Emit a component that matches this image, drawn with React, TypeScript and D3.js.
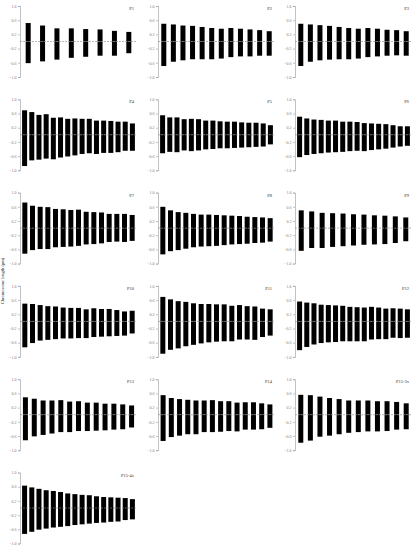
import React, { useEffect, useRef } from 'react';
import * as d3 from 'd3';

// short arm (above centromere) and long arm (below, negative) per accession
const P1_UP = [0.52, 0.45, 0.37, 0.37, 0.35, 0.34, 0.30, 0.27];
const P1_DOWN = [-0.61, -0.56, -0.51, -0.46, -0.43, -0.40, -0.40, -0.33];
const P2_UP = [0.50, 0.48, 0.45, 0.44, 0.41, 0.38, 0.36, 0.38, 0.36, 0.34, 0.32, 0.29];
const P2_DOWN = [-0.69, -0.57, -0.53, -0.50, -0.50, -0.50, -0.48, -0.44, -0.42, -0.42, -0.40, -0.40];
const P3_UP = [0.50, 0.48, 0.46, 0.44, 0.41, 0.38, 0.36, 0.38, 0.36, 0.33, 0.32, 0.29];
const P3_DOWN = [-0.69, -0.57, -0.53, -0.51, -0.50, -0.50, -0.48, -0.44, -0.42, -0.40, -0.39, -0.40];
const P4_UP = [0.69, 0.64, 0.56, 0.58, 0.48, 0.49, 0.45, 0.46, 0.45, 0.45, 0.40, 0.40, 0.39, 0.37, 0.37, 0.32];
const P4_DOWN = [-0.88, -0.72, -0.70, -0.67, -0.69, -0.64, -0.61, -0.58, -0.54, -0.52, -0.54, -0.51, -0.51, -0.49, -0.45, -0.45];
const P5_UP = [0.55, 0.49, 0.49, 0.44, 0.45, 0.44, 0.40, 0.40, 0.38, 0.37, 0.37, 0.35, 0.34, 0.34, 0.32, 0.27];
const P5_DOWN = [-0.52, -0.48, -0.49, -0.44, -0.46, -0.44, -0.41, -0.40, -0.38, -0.38, -0.37, -0.36, -0.35, -0.34, -0.33, -0.27];
const P6_UP = [0.51, 0.46, 0.43, 0.42, 0.40, 0.40, 0.37, 0.37, 0.36, 0.33, 0.32, 0.31, 0.30, 0.27, 0.24, 0.24];
const P6_DOWN = [-0.63, -0.57, -0.54, -0.52, -0.50, -0.49, -0.48, -0.46, -0.45, -0.46, -0.43, -0.41, -0.39, -0.36, -0.33, -0.31];
const P7_UP = [0.72, 0.63, 0.60, 0.59, 0.54, 0.53, 0.51, 0.52, 0.46, 0.45, 0.44, 0.40, 0.40, 0.40, 0.37];
const P7_DOWN = [-0.72, -0.62, -0.59, -0.59, -0.54, -0.53, -0.52, -0.50, -0.46, -0.45, -0.43, -0.39, -0.38, -0.39, -0.36];
const P8_UP = [0.60, 0.50, 0.45, 0.43, 0.40, 0.38, 0.38, 0.37, 0.36, 0.35, 0.34, 0.32, 0.31, 0.30, 0.28];
const P8_DOWN = [-0.74, -0.65, -0.62, -0.58, -0.54, -0.52, -0.51, -0.50, -0.48, -0.46, -0.45, -0.44, -0.42, -0.41, -0.38];
const P9_UP = [0.50, 0.47, 0.43, 0.42, 0.41, 0.39, 0.38, 0.36, 0.35, 0.33, 0.30];
const P9_DOWN = [-0.64, -0.56, -0.56, -0.53, -0.51, -0.49, -0.47, -0.46, -0.45, -0.42, -0.37];
const P10_UP = [0.50, 0.49, 0.46, 0.43, 0.42, 0.39, 0.38, 0.38, 0.34, 0.37, 0.35, 0.35, 0.32, 0.28, 0.30];
const P10_DOWN = [-0.73, -0.61, -0.54, -0.52, -0.50, -0.48, -0.48, -0.47, -0.47, -0.44, -0.43, -0.42, -0.41, -0.40, -0.34];
const P11_UP = [0.69, 0.62, 0.57, 0.55, 0.51, 0.49, 0.49, 0.48, 0.48, 0.44, 0.46, 0.43, 0.42, 0.36, 0.34];
const P11_DOWN = [-0.91, -0.80, -0.76, -0.70, -0.66, -0.62, -0.59, -0.57, -0.56, -0.56, -0.51, -0.51, -0.52, -0.44, -0.40];
const P12_UP = [0.56, 0.53, 0.51, 0.47, 0.46, 0.45, 0.44, 0.41, 0.40, 0.39, 0.41, 0.39, 0.36, 0.37, 0.36, 0.34];
const P12_DOWN = [-0.81, -0.72, -0.65, -0.61, -0.59, -0.58, -0.56, -0.56, -0.56, -0.56, -0.51, -0.50, -0.50, -0.46, -0.47, -0.46];
const P13_UP = [0.49, 0.45, 0.40, 0.40, 0.41, 0.37, 0.38, 0.34, 0.34, 0.31, 0.31, 0.29, 0.26];
const P13_DOWN = [-0.72, -0.61, -0.57, -0.53, -0.49, -0.49, -0.46, -0.46, -0.45, -0.44, -0.42, -0.41, -0.36];
const P14_UP = [0.55, 0.47, 0.44, 0.42, 0.40, 0.40, 0.41, 0.38, 0.38, 0.34, 0.35, 0.35, 0.32, 0.29];
const P14_DOWN = [-0.74, -0.63, -0.59, -0.55, -0.55, -0.49, -0.49, -0.48, -0.46, -0.47, -0.42, -0.42, -0.41, -0.37];
const P15_3X_UP = [0.56, 0.55, 0.51, 0.47, 0.44, 0.40, 0.40, 0.40, 0.38, 0.38, 0.36, 0.32];
const P15_3X_DOWN = [-0.79, -0.73, -0.62, -0.59, -0.55, -0.51, -0.49, -0.47, -0.47, -0.46, -0.42, -0.41];
const P15_4X_UP = [0.63, 0.58, 0.54, 0.50, 0.48, 0.45, 0.41, 0.39, 0.37, 0.36, 0.33, 0.31, 0.30, 0.29, 0.28, 0.25];
const P15_4X_DOWN = [-0.73, -0.67, -0.61, -0.58, -0.55, -0.53, -0.51, -0.48, -0.46, -0.44, -0.42, -0.41, -0.39, -0.38, -0.34, -0.32];

const PANEL_NAMES = ['P1', 'P2', 'P3', 'P4', 'P5', 'P6', 'P7', 'P8', 'P9', 'P10', 'P11', 'P12', 'P13', 'P14', 'P15-3x', 'P15-4x'];
const Y_TICKS = [1.0, 0.6, 0.2, -0.2, -0.6, -1.0];
const Y_TITLE = 'Chromosome length (μm)';

const UPS = [P1_UP, P2_UP, P3_UP, P4_UP, P5_UP, P6_UP, P7_UP, P8_UP, P9_UP, P10_UP, P11_UP, P12_UP, P13_UP, P14_UP, P15_3X_UP, P15_4X_UP];
const DOWNS = [P1_DOWN, P2_DOWN, P3_DOWN, P4_DOWN, P5_DOWN, P6_DOWN, P7_DOWN, P8_DOWN, P9_DOWN, P10_DOWN, P11_DOWN, P12_DOWN, P13_DOWN, P14_DOWN, P15_3X_DOWN, P15_4X_DOWN];

const App = () => {
  const ref = useRef(null);

  useEffect(() => {
    d3.select(ref.current).selectAll('*').remove();
    const svg = d3.select(ref.current);

    const colX = [20, 158, 295];
    const rowStep = 93.3;
    const plotH = 71;
    const plotW = 117;
    const barW = 5;
    const font = '"Liberation Serif", "DejaVu Serif", serif';

    PANEL_NAMES.forEach((name, k) => {
      const x0 = colX[k % 3];
      const top = 6 + Math.floor(k / 3) * rowStep;
      const up = UPS[k];
      const down = DOWNS[k];

      const y = d3.scaleLinear().domain([-1, 1]).range([top + plotH, top]);
      const x = d3.scaleBand()
        .domain(d3.range(up.length))
        .range([x0 + 1, x0 + 116]);

      const g = svg.append('g');

      // axis
      const axis = d3.axisLeft(y)
        .tickValues(Y_TICKS)
        .tickSize(2)
        .tickPadding(1.5)
        .tickFormat(d3.format('.1f'));
      const ag = g.append('g')
        .attr('transform', `translate(${x0},0)`)
        .call(axis);
      ag.select('path.domain').attr('stroke', '#999').attr('stroke-width', 0.6);
      ag.selectAll('.tick line').attr('stroke', '#999').attr('stroke-width', 0.6);
      ag.selectAll('.tick text')
        .attr('fill', '#777')
        .attr('font-family', font)
        .attr('font-size', '4px');

      // chromosome arms
      g.selectAll('.up')
        .data(up)
        .enter().append('rect')
        .attr('x', (d, i) => x(i) + x.bandwidth() / 2 - barW / 2)
        .attr('y', d => y(d))
        .attr('width', barW)
        .attr('height', d => y(0) - y(d))
        .attr('fill', '#000');

      g.selectAll('.down')
        .data(down)
        .enter().append('rect')
        .attr('x', (d, i) => x(i) + x.bandwidth() / 2 - barW / 2)
        .attr('y', y(0))
        .attr('width', barW)
        .attr('height', d => y(d) - y(0))
        .attr('fill', '#000');

      // centromere line
      g.append('line')
        .attr('x1', x0)
        .attr('x2', x0 + plotW)
        .attr('y1', y(0))
        .attr('y2', y(0))
        .attr('stroke', '#888')
        .attr('stroke-width', 0.6)
        .attr('stroke-dasharray', '2,1');

      g.append('text')
        .attr('x', x0 + 114)
        .attr('y', top + 4)
        .attr('text-anchor', 'end')
        .attr('font-family', font)
        .attr('font-size', '4.5px')
        .attr('fill', '#333')
        .text(name);
    });

    svg.append('text')
      .attr('transform', `translate(4,281) rotate(-90)`)
      .attr('text-anchor', 'middle')
      .attr('font-family', font)
      .attr('font-size', '4.5px')
      .attr('fill', '#333')
      .text(Y_TITLE);
  }, []);

  return (
    <svg ref={ref} width="415" height="550" style={{ position: 'absolute', left: 0, top: 0, background: '#fff' }}></svg>
  );
};

export default App;
